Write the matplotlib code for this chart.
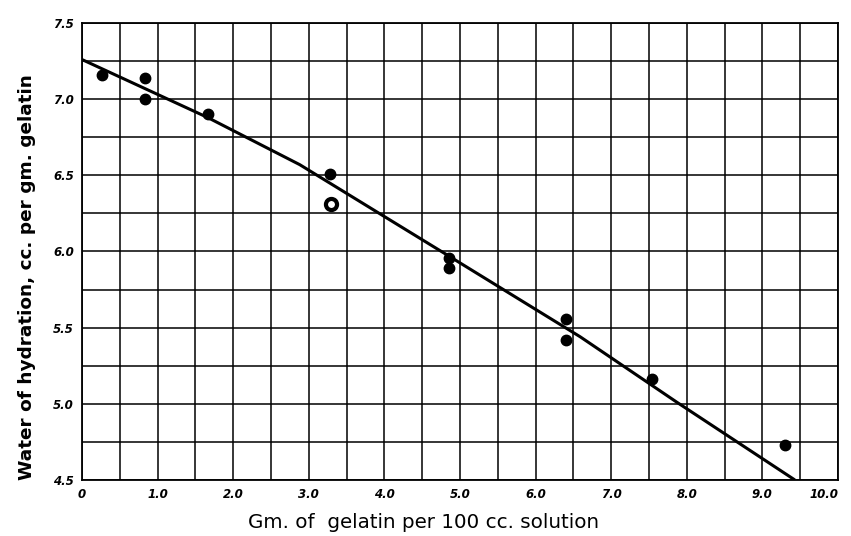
import numpy as np
import matplotlib.pyplot as plt

# ========== 数据 ==========
gelatin = [0.26, 0.83, 0.83, 1.66, 3.28, 4.85, 4.85, 6.40, 6.40, 7.54, 9.30]
water = [7.16, 7.14, 7.00, 6.90, 6.51, 5.96, 5.89, 5.56, 5.42, 5.16, 4.73]

# the one ring-shaped point
ring_x = [3.29]
ring_y = [6.31]

# hand-drawn curve through the data
curve_x = [0.0, 1.66, 2.88, 4.82, 6.59, 7.87, 9.43]
curve_y = [7.26, 6.88, 6.57, 5.98, 5.44, 5.01, 4.50]

x_ticks = [0, 1, 2, 3, 4, 5, 6, 7, 8, 9, 10]
x_tick_labels = ['0', '1.0', '2.0', '3.0', '4.0', '5.0', '6.0', '7.0', '8.0', '9.0', '10.0']
y_ticks = [4.5, 5.0, 5.5, 6.0, 6.5, 7.0, 7.5]
y_tick_labels = ['4.5', '5.0', '5.5', '6.0', '6.5', '7.0', '7.5']

# ========== 绘图 ==========
fig = plt.figure(figsize=(8.51, 5.36), dpi=100)
ax = fig.add_axes([0.0964, 0.1045, 0.8883, 0.8526])

ax.set_xlim(0, 10)
ax.set_ylim(4.5, 7.5)

# graph paper grid: 0.5 in x, 0.25 in y
ax.set_xticks(np.arange(0, 10.01, 0.5), minor=True)
ax.set_yticks(np.arange(4.5, 7.51, 0.25), minor=True)
ax.grid(True, which='both', color='black', linewidth=1.1)
ax.set_axisbelow(True)

ax.set_xticks(x_ticks)
ax.set_xticklabels(x_tick_labels, fontsize=8.5, fontweight='bold', fontstyle='italic')
ax.set_yticks(y_ticks)
ax.set_yticklabels(y_tick_labels, fontsize=8.5, fontweight='bold', fontstyle='italic')
ax.tick_params(which='both', length=0, pad=6)
# the last label sits hard against the right edge in the scan
ax.get_xticklabels()[-1].set_horizontalalignment('right')
ax.get_xticklabels()[-1].set_x(10.15)

for s in ax.spines.values():
    s.set_color('black')
    s.set_linewidth(1.3)

ax.plot(curve_x, curve_y, color='black', linewidth=2.2, solid_capstyle='butt')
ax.plot(gelatin, water, 'o', color='black', markersize=7.5, clip_on=False)
ax.plot(ring_x, ring_y, 'o', markerfacecolor='white', markeredgecolor='black',
        markeredgewidth=3.0, markersize=8)

# axis titles, placed like the hand lettering
fig.text(424 / 851, 1 - 522 / 536, 'Gm. of  gelatin per 100 cc. solution',
         fontsize=14.3, ha='center', va='center')
fig.text(27 / 851, 1 - 277 / 536, 'Water of hydration, cc. per gm. gelatin',
         fontsize=13.3, fontweight='bold', rotation=90, ha='center', va='center')

plt.savefig('out.png', dpi=100)
